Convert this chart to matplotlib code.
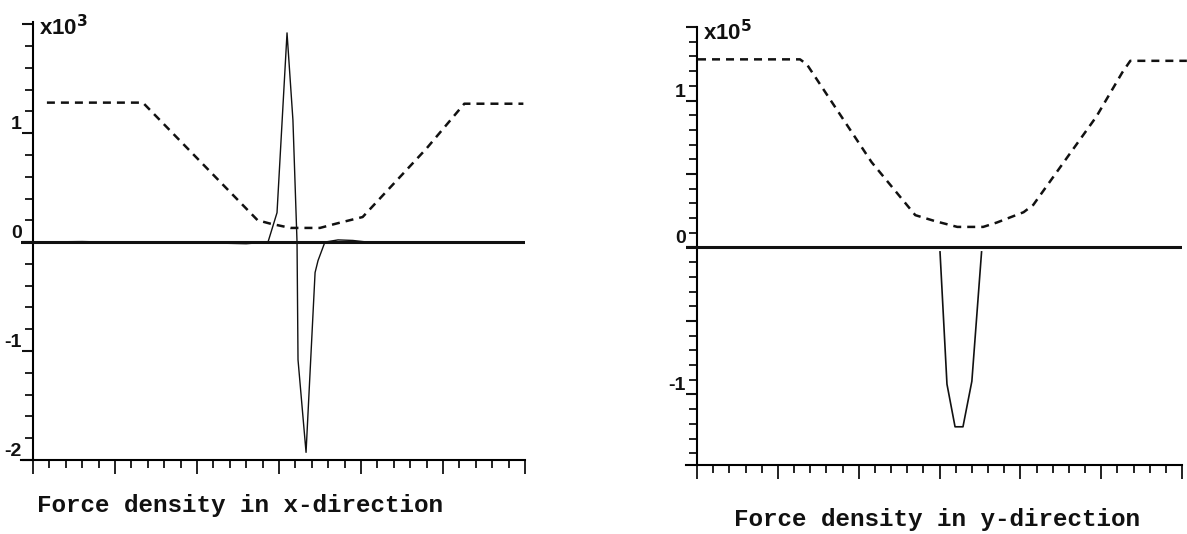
import matplotlib
matplotlib.use('Agg')
import matplotlib.pyplot as plt
from matplotlib.ticker import FixedLocator, MultipleLocator

BLACK = '#111111'

# left panel: force density in x-direction (x10^3)
fx_pos = [0.0, 3.0, 6.0, 9.0, 11.5, 13.0, 14.33, 14.88, 15.49, 15.85, 16.1, 16.16,
          16.65, 17.2, 17.38, 17.8, 18.6, 19.5, 21.0, 24.0, 27.0, 29.7]
fx_val = [0.0, 0.005, -0.005, 0.0, -0.01, -0.015, 0.0, 0.27, 1.92, 1.12, 0.0, -1.08,
          -1.93, -0.28, -0.17, 0.0, 0.02, 0.015, -0.01, 0.0, -0.005, 0.0]
gx_pos = [0.85, 6.7, 10.2, 13.7, 14.45, 15.7, 17.5, 18.5, 20.1, 24.0, 26.3, 29.9]
gx_val = [1.28, 1.28, 0.74, 0.20, 0.17, 0.13, 0.13, 0.17, 0.23, 0.86, 1.27, 1.27]

# right panel: force density in y-direction (x10^5)
fy_pos = [15.03, 15.46, 15.96, 16.45, 17.0, 17.6]
fy_val = [-0.03, -0.93, -1.22, -1.22, -0.91, -0.03]
gy_pos = [0.06, 6.37, 6.8, 10.8, 13.5, 14.7, 16.1, 17.7, 18.55, 20.2, 20.8, 24.7, 26.3, 26.8, 30.3]
gy_val = [1.28, 1.28, 1.245, 0.58, 0.22, 0.18, 0.14, 0.14, 0.17, 0.24, 0.29, 0.89, 1.19, 1.27, 1.27]

left_major = [-2, -1, 0, 1, 2]
left_labels = ['-2', '-1', '0', '1', '']
right_major = [-1.5, -1, -0.5, 0, 0.5, 1, 1.5]
right_labels = ['', '-1', '', '0', '', '1', '']

LABEL_FONT = ['Liberation Sans Narrow', 'Liberation Sans', 'DejaVu Sans']


def style_axes(ax, ylim, major, labels, minor_step, scale_text):
    ax.set_xlim(-0.7, 30.0)
    ax.set_ylim(*ylim)
    for s in ['top', 'right']:
        ax.spines[s].set_visible(False)
    ax.spines['left'].set_position(('data', 0))
    ax.spines['left'].set_linewidth(1.5)
    ax.spines['bottom'].set_linewidth(1.5)
    ax.xaxis.set_major_locator(FixedLocator([0, 5, 10, 15, 20, 25, 30]))
    ax.xaxis.set_minor_locator(MultipleLocator(1))
    ax.set_xticklabels([])
    ax.yaxis.set_major_locator(FixedLocator(major))
    ax.yaxis.set_minor_locator(MultipleLocator(minor_step))
    ax.set_yticklabels(labels, va='bottom', fontweight='bold', fontsize=14,
                       family=LABEL_FONT)
    ax.tick_params(axis='x', which='major', direction='out', length=10, width=1.3, color=BLACK)
    ax.tick_params(axis='x', which='minor', direction='out', length=6, width=1.3, color=BLACK)
    ax.tick_params(axis='y', which='major', direction='out', length=8, width=1.5,
                   pad=0, color=BLACK, labelcolor=BLACK)
    ax.tick_params(axis='y', which='minor', direction='out', length=6, width=1.3, color=BLACK)
    ax.axhline(0, color=BLACK, linewidth=2.2, zorder=3)
    ax.text(0.035, 1.015, scale_text, transform=ax.transAxes, ha='left', va='top',
            fontsize=16, fontweight='bold', family=LABEL_FONT, color=BLACK)


fig = plt.figure(figsize=(11.87, 5.34), dpi=100)

ax1 = fig.add_axes([0.0181, 0.1386, 0.4242, 0.8202])
ax1.plot(gx_pos, gx_val, color=BLACK, linewidth=1.8, dashes=(3.2, 2.4))
ax1.plot(fx_pos, fx_val, color=BLACK, linewidth=1.0, zorder=4)
style_axes(ax1, (-2.0, 2.02), left_major, left_labels, 0.2, r'x10$^{\mathbf{3}}$')

ax2 = fig.add_axes([0.5777, 0.1292, 0.4181, 0.8202])
ax2.plot(gy_pos, gy_val, color=BLACK, linewidth=1.8, dashes=(3.2, 2.4), clip_on=False)
ax2.plot(fy_pos, fy_val, color=BLACK, linewidth=1.2, zorder=4)
style_axes(ax2, (-1.48, 1.5), right_major, right_labels, 0.1, r'x10$^{\mathbf{5}}$')

fig.text(0.202, 0.054, 'Force density in x-direction', ha='center', va='center',
         family=['Liberation Mono', 'DejaVu Sans Mono'], fontweight='bold', fontsize=17.5,
         color=BLACK)
fig.text(0.789, 0.027, 'Force density in y-direction', ha='center', va='center',
         family=['Liberation Mono', 'DejaVu Sans Mono'], fontweight='bold', fontsize=17.5,
         color=BLACK)

fig.savefig('out.png', dpi=100)
plt.close(fig)
